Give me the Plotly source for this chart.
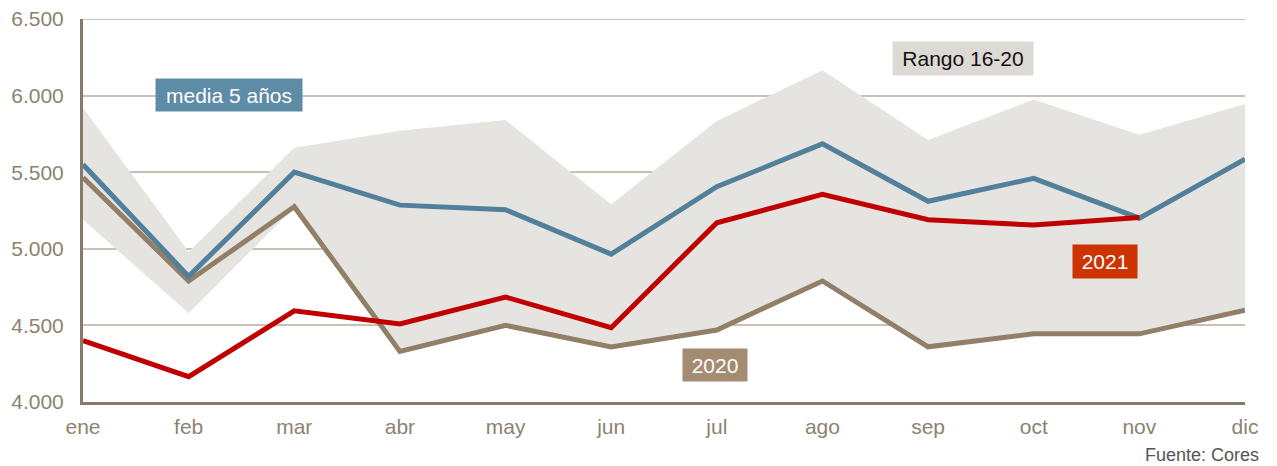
import plotly.graph_objects as go

# Months (Spanish abbreviations)
meses = ["ene", "feb", "mar", "abr", "may", "jun", "jul", "ago", "sep", "oct", "nov", "dic"]

# Range 2016-2020 (upper and lower bounds)
rango_max = [5920, 4980, 5660, 5770, 5840, 5290, 5835, 6165, 5710, 5975, 5745, 5945]
rango_min = [5190, 4580, 5270, 4330, 4500, 4360, 4470, 4790, 4360, 4445, 4445, 4600]

# 5-year average
media_5 = [5550, 4820, 5500, 5285, 5255, 4965, 5405, 5685, 5310, 5460, 5200, 5585]

# Year 2020
y2020 = [5465, 4790, 5275, 4330, 4500, 4360, 4470, 4790, 4360, 4445, 4445, 4600]

# Year 2021 (through November)
y2021 = [4400, 4165, 4595, 4510, 4685, 4485, 5170, 5355, 5190, 5155, 5205]

y_ticks = [4000, 4500, 5000, 5500, 6000, 6500]

x = list(range(len(meses)))

TICK_COLOR = "#8C836F"
AXIS_COLOR = "#857B68"
GRID_COLOR = "#C9C2B4"

fig = go.Figure()

# Shaded range band
fig.add_trace(go.Scatter(x=x, y=rango_max, mode="lines", line=dict(width=0),
                         hoverinfo="skip", showlegend=False))
fig.add_trace(go.Scatter(x=x, y=rango_min, mode="lines", line=dict(width=0),
                         fill="tonexty", fillcolor="#E6E4E0",
                         hoverinfo="skip", showlegend=False))

# Series lines
fig.add_trace(go.Scatter(x=x, y=y2020, mode="lines",
                         line=dict(color="#917F68", width=5), showlegend=False))
fig.add_trace(go.Scatter(x=x, y=media_5, mode="lines",
                         line=dict(color="#527F99", width=5), showlegend=False))
fig.add_trace(go.Scatter(x=x[:len(y2021)], y=y2021, mode="lines",
                         line=dict(color="#C00000", width=5), showlegend=False))

# Top gridline at the upper end of the value axis
fig.add_shape(type="line", xref="paper", yref="y", x0=0, x1=1,
              y0=y_ticks[-1], y1=y_ticks[-1], layer="below",
              line=dict(color=GRID_COLOR, width=2))

label_font = dict(family="Liberation Sans, Arial, sans-serif", size=21)

def box_label(text, xv, yv, bg, fg, w, h):
    fig.add_annotation(x=xv, y=yv, xref="x", yref="y", text=text, showarrow=False,
                       bgcolor=bg, font=dict(label_font, color=fg),
                       width=w, height=h, borderpad=0, align="center", valign="middle")

box_label("media 5 años", 1.38, 6004, "#5E8BA5", "#FFFFFF", 146, 32)
box_label("Rango 16-20", 8.33, 6245, "#DDDAD5", "#111111", 140, 33)
box_label("2020", 5.98, 4241, "#A38C72", "#FFFFFF", 64, 32)
box_label("2021", 9.67, 4914, "#CC3300", "#FFFFFF", 64, 33)

fig.add_annotation(x=1, y=0, xref="paper", yref="paper", xanchor="right", yanchor="middle",
                   xshift=15, yshift=-53, text="Fuente: Cores", showarrow=False, borderpad=0,
                   font=dict(family="Liberation Sans, Arial, sans-serif", size=18, color="#555555"))

fig.update_layout(
    width=1277, height=466,
    margin=dict(l=83, r=32, t=19, b=64, autoexpand=False),
    paper_bgcolor="white", plot_bgcolor="white",
    separators=",.",
    font=dict(family="Liberation Sans, Arial, sans-serif", size=21, color=TICK_COLOR),
    xaxis=dict(range=[0, 11], tickmode="array", tickvals=x, ticktext=meses,
               showgrid=False, zeroline=False, showline=True, linecolor=AXIS_COLOR,
               linewidth=3, ticks="outside", ticklen=4, tickcolor="rgba(0,0,0,0)",
               tickfont=dict(size=21, color=TICK_COLOR)),
    yaxis=dict(range=[4000, 6500], tickvals=y_ticks,
               tickformat=",d", showgrid=True, gridcolor=GRID_COLOR, gridwidth=2,
               zeroline=False, showline=True, linecolor=AXIS_COLOR, linewidth=3,
               ticks="outside", ticklen=12, tickcolor="rgba(0,0,0,0)",
               tickfont=dict(size=21, color=TICK_COLOR)),
)

fig.write_html("out.html")
